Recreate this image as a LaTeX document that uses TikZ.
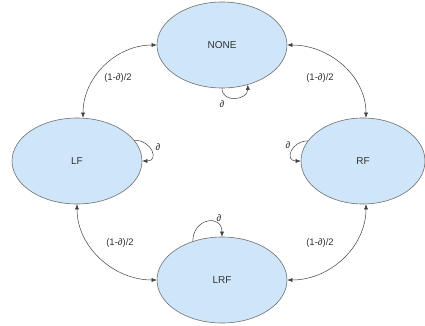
\documentclass[tikz,border=0pt]{standalone}
\usepackage{fontspec}
\setmainfont{Liberation Sans}
\usetikzlibrary{shapes.geometric,arrows.meta}
\definecolor{statefill}{RGB}{207,230,250}
\definecolor{stateline}{RGB}{110,110,110}
\definecolor{labeltext}{RGB}{50,50,50}
\tikzset{
  state/.style={ellipse, draw=stateline, line width=0.6pt, fill=statefill,
    minimum width=130pt, minimum height=86pt, inner sep=0pt,
    text=labeltext, font=\fontsize{10}{12}\selectfont},
  trans/.style={draw=black!75, line width=0.5pt,
    {Latex[length=5pt,width=4pt]}-{Latex[length=5pt,width=4pt]}},
  selfloop/.style={draw=black!75, line width=0.5pt, -{Latex[length=5pt,width=4pt]}},
  prob/.style={text=labeltext, font=\fontsize{9.5}{11}\selectfont, inner sep=0pt}
}
\begin{document}
\begin{tikzpicture}[x=1pt, y=-1pt]
  \useasboundingbox (0,0) rectangle (425,326);

  % states
  \node[state] (none) at (222,45) {NONE};
  \node[state] (lf)   at (77,161) {LF};
  \node[state, minimum width=124pt] (rf) at (363,161) {RF};
  \node[state] (lrf)  at (222,280) {LRF};

  % transitions between states
  \draw[trans] (none.west) to[out=180, in=90] ([xshift=6pt]lf.north);
  \draw[trans] (none.east) to[out=0, in=90] ([xshift=3pt]rf.north);
  \draw[trans] (lf.south) to[out=270, in=180] (lrf.west);
  \draw[trans] ([xshift=3pt]rf.south) to[out=270, in=0] (lrf.east);

  % self loops
  \draw[selfloop] (none.south) to[out=-90, in=-90, looseness=1.5] (none.-57);
  \draw[selfloop] (lf.20) to[out=0, in=0, looseness=2] (lf.east);
  \draw[selfloop] (rf.160) to[out=180, in=180, looseness=2] (rf.west);
  \draw[selfloop] (lrf.127) to[out=90, in=90, looseness=2] (lrf.north);

  % probabilities
  \node[prob] (pa) at (118,78)  {(1-∂)/2};
  \node[prob] (pb) at (320,78)  {(1-∂)/2};
  \node[prob] (pc) at (120,243) {(1-∂)/2};
  \node[prob] (pd) at (320,243) {(1-∂)/2};
  \node[prob] (sa) at (222,104) {∂};
  \node[prob] (sb) at (158,147) {∂};
  \node[prob] (sc) at (288,145) {∂};
  \node[prob] (sd) at (219,218) {∂};
\end{tikzpicture}
\end{document}
